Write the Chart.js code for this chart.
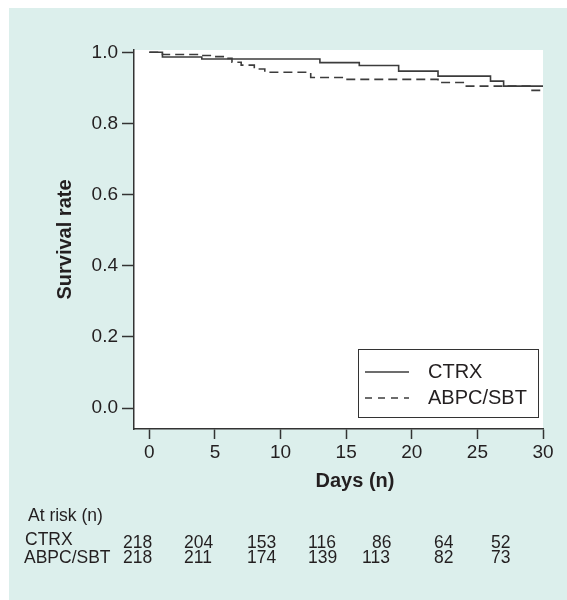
<!DOCTYPE html>
<html>
<head>
<meta charset="utf-8">
<script src="https://cdn.jsdelivr.net/npm/chart.js@4.4.1/dist/chart.umd.min.js"></script>
<style>
  html, body { margin: 0; padding: 0; background: #ffffff; }
  canvas { display: block; }
</style>
</head>
<body>
<canvas id="km" width="567" height="600"></canvas>
<script>
// Kaplan-Meier survival, CTRX vs ABPC/SBT

// step times (days) and survival for each arm
const ctrxDays = [0, 1, 4, 13, 16, 19, 22, 26, 27, 30];
const ctrxSurv = [1.000, 0.987, 0.981, 0.971, 0.963, 0.947, 0.933, 0.919, 0.905, 0.905];

const abpcDays = [0, 1, 4, 4.9, 5.7, 6.3, 7, 8, 8.8, 12.3, 15, 22, 24, 29, 30];
const abpcSurv = [1.000, 0.994, 0.991, 0.988, 0.983, 0.972, 0.964, 0.953, 0.944, 0.929, 0.924, 0.915, 0.905, 0.893, 0.893];

// tick labels
const xTicks = [0, 5, 10, 15, 20, 25, 30];
const yTicks = [0.0, 0.2, 0.4, 0.6, 0.8, 1.0];

// number at risk table
const riskLabels = ["CTRX", "ABPC/SBT"];
const ctrxRisk = [218, 204, 153, 116, 86, 64, 52];
const abpcRisk = [218, 211, 174, 139, 113, 82, 73];

const seriesNames = ["CTRX", "ABPC/SBT"];

const FONT = "'Liberation Sans', Arial, Helvetica, sans-serif";
const INK = "#231f20";
const LINE = "#3c3c3c";
const PANEL = "#dcefec";

function toPoints(days, surv) {
    return days.map((d, i) => ({ x: d, y: surv[i] }));
}

// background panel + white plot area
const backdrop = {
    id: "backdrop",
    beforeDraw(chart) {
        const ctx = chart.ctx;
        const a = chart.chartArea;
        ctx.save();
        ctx.fillStyle = "#ffffff";
        ctx.fillRect(0, 0, chart.width, chart.height);
        ctx.fillStyle = PANEL;
        ctx.fillRect(9, 8, chart.width - 9, chart.height - 8);
        ctx.fillStyle = "#ffffff";
        ctx.fillRect(a.left, a.top, a.right - a.left, a.bottom - a.top);
        ctx.restore();
    }
};

// legend box inside the plot, x axis title and the at-risk table
const extras = {
    id: "extras",
    afterDraw(chart) {
        const ctx = chart.ctx;
        ctx.save();

        // legend
        ctx.strokeStyle = "#333";
        ctx.lineWidth = 1;
        ctx.strokeRect(358.5, 349.5, 180, 68);
        const rowsY = [372, 398];
        chart.data.datasets.forEach((ds, i) => {
            ctx.beginPath();
            ctx.strokeStyle = ds.borderColor;
            ctx.lineWidth = ds.borderWidth;
            ctx.setLineDash(i === 0 ? [] : [7, 6]);
            ctx.moveTo(365, rowsY[i]);
            ctx.lineTo(409, rowsY[i]);
            ctx.stroke();
            ctx.setLineDash([]);
            ctx.fillStyle = INK;
            ctx.font = "20px " + FONT;
            ctx.textAlign = "left";
            ctx.textBaseline = "middle";
            ctx.fillText(ds.label, 428, rowsY[i]);
        });

        // x axis title
        ctx.fillStyle = INK;
        ctx.font = "bold 20px " + FONT;
        ctx.textAlign = "center";
        ctx.textBaseline = "middle";
        ctx.fillText("Days (n)", 355, 481);

        // at risk table
        ctx.font = "17.5px " + FONT;
        ctx.textAlign = "left";
        ctx.fillText("At risk (n)", 28, 516);
        ctx.fillText(riskLabels[0], 25, 540);
        ctx.fillText(riskLabels[1], 24, 558);
        const colX = [123, 184, 247, 308, 362, 434, 491];
        ctrxRisk.forEach((n, i) => {
            // the 86 sits one digit in, like a padded column
            const x = (n < 100 && i === 4) ? colX[i] + 10 : colX[i];
            ctx.fillText(String(n), x, 543);
        });
        abpcRisk.forEach((n, i) => {
            ctx.fillText(String(n), colX[i], 558);
        });

        ctx.restore();
    }
};

const ctx = document.getElementById("km").getContext("2d");
const myChart = new Chart(ctx, {
    type: "line",
    data: {
        datasets: [
            {
                label: seriesNames[0],
                data: toPoints(ctrxDays, ctrxSurv),
                stepped: "before",
                borderColor: LINE,
                borderWidth: 1.6,
                pointRadius: 0,
                fill: false
            },
            {
                label: seriesNames[1],
                data: toPoints(abpcDays, abpcSurv),
                stepped: "before",
                borderColor: LINE,
                borderWidth: 1.6,
                borderDash: [9, 5],
                pointRadius: 0,
                fill: false
            }
        ]
    },
    options: {
        responsive: false,
        devicePixelRatio: 1,
        animation: false,
        layout: {
            padding: { left: 0, top: 50, right: 24, bottom: 131 }
        },
        plugins: {
            legend: { display: false },
            tooltip: { enabled: false }
        },
        scales: {
            x: {
                type: "linear",
                min: -1.167,
                max: 30,
                afterFit(scale) { scale.height = 40; },
                afterBuildTicks(scale) {
                    scale.ticks = xTicks.map(v => ({ value: v }));
                },
                border: { display: true, color: "#333", width: 1.5 },
                grid: {
                    drawOnChartArea: false,
                    drawTicks: true,
                    tickLength: 10,
                    tickColor: "#333",
                    tickWidth: 1.5
                },
                ticks: {
                    color: INK,
                    padding: 2,
                    maxRotation: 0,
                    font: { family: FONT, size: 19 },
                    callback: v => String(v)
                },
                title: { display: false }
            },
            y: {
                min: -0.059,
                max: 1.0065,
                afterFit(scale) { scale.width = 134; },
                afterBuildTicks(scale) {
                    scale.ticks = yTicks.map(v => ({ value: v }));
                },
                border: { display: true, color: "#333", width: 1.5 },
                grid: {
                    drawOnChartArea: false,
                    drawTicks: true,
                    tickLength: 12,
                    tickColor: "#333",
                    tickWidth: 1.5
                },
                ticks: {
                    color: INK,
                    padding: 4,
                    font: { family: FONT, size: 19 },
                    callback: v => Number(v).toFixed(1)
                },
                title: {
                    display: true,
                    text: "Survival rate",
                    color: INK,
                    font: { family: FONT, size: 20, weight: "bold" },
                    padding: { top: 53, bottom: 0 }
                }
            }
        }
    },
    plugins: [backdrop, extras]
});
</script>
</body>
</html>
